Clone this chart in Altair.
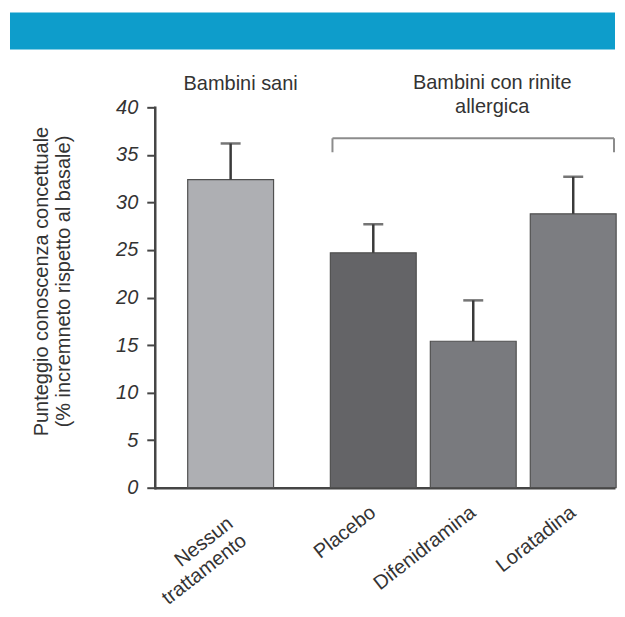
import altair as alt
import pandas as pd

# ---- data ----
CATEGORIES = ["Nessun trattamento", "Placebo", "Difenidramina", "Loratadina"]
GROUPS = ["sani", "rinite", "rinite", "rinite"]
MEANS = [32.4, 24.7, 15.4, 28.8]
ERRORS = [3.8, 3.0, 4.3, 3.9]
Y_TICKS = [0, 5, 10, 15, 20, 25, 30, 35, 40]
LEFT_TITLE = "Bambini sani"
RIGHT_TITLE = ["Bambini con rinite", "allergica"]
Y_TITLE = ["Punteggio conoscenza concettuale", "(% incremneto rispetto al basale)"]

# ---- styles ----
BAR_COLORS = ["#aeafb3", "#646467", "#797a7e", "#7c7d81"]
FONT = "Liberation Sans, Arial, Helvetica, sans-serif"
TEXT = "#333333"
AXIS = "#454545"
H = 381
LW = 152
RW = 309

df = pd.DataFrame({"cat": CATEGORIES, "group": GROUPS, "mean": MEANS, "err": ERRORS})
one = pd.DataFrame({"k": [0]})


def x_axis(pad):
    return alt.Axis(
        labelAngle=322, labelAlign="right", labelBaseline="middle",
        labelPadding=pad, ticks=False, tickSize=0,
        domainColor=AXIS, domainWidth=2.5, domainCap="butt",
        labelExpr="split(datum.label, ' ')", labelFontSize=20,
        labelLineHeight=22, labelColor=TEXT, labelFont=FONT, labelLimit=400,
    )


y_axis_left = alt.Axis(
    values=Y_TICKS, grid=False, labelFontStyle="italic", labelFontSize=20,
    labelFont=FONT, labelColor=TEXT, labelPadding=9, tickSize=8, tickWidth=2,
    tickColor=AXIS, domainColor=AXIS, domainWidth=2.5, domainCap="square",
    titleX=-107, titleY=174, titleAngle=270, titleBaseline="alphabetic",
    titleAlign="center", titleFontSize=20, titleFontWeight="normal",
    titleLineHeight=22, titleColor=TEXT, titleFont=FONT,
)

yscale = alt.Scale(domain=[0, 40], nice=False, zero=True)


def panel(group, cats, xscale, xaxis, yaxis):
    base = (
        alt.Chart(df)
        .transform_filter(alt.datum.group == group)
        .transform_calculate(top="datum.mean + datum.err")
    )
    x = alt.X("cat:N", sort=cats, scale=xscale, axis=xaxis, title=None)
    ytitle = Y_TITLE if yaxis is not None else None
    bars = base.mark_bar(size=86, stroke="#505050", strokeWidth=1.2).encode(
        x=x,
        y=alt.Y("mean:Q", scale=yscale, axis=yaxis, title=ytitle),
        color=alt.Color("cat:N", scale=alt.Scale(domain=CATEGORIES, range=BAR_COLORS), legend=None),
    )
    err = base.mark_rule(color="#3a3a3a", strokeWidth=2.5).encode(
        x=x,
        y=alt.Y("mean:Q", scale=yscale, axis=yaxis, title=ytitle),
        y2="top:Q",
    )
    cap = base.mark_tick(color="#3a3a3a", size=20, thickness=2.5).encode(
        x=x,
        y=alt.Y("top:Q", scale=yscale, axis=yaxis, title=ytitle),
    )
    return [bars, err, cap]


def title_text(text, x, y):
    return alt.Chart(one).mark_text(
        font=FONT, fontSize=20, color=TEXT, baseline="alphabetic",
        align="center", lineHeight=24,
    ).encode(x=alt.value(x), y=alt.value(y), text=alt.value(text))


# left panel
left_layers = panel(
    "sani", CATEGORIES[:1],
    alt.Scale(domain=CATEGORIES[:1], paddingInner=0, paddingOuter=0),
    x_axis(33), y_axis_left,
)
banner = alt.Chart(one).mark_rect(color="#0e9dcb").encode(
    x=alt.value(-145), x2=alt.value(461), y=alt.value(-95), y2=alt.value(-58)
)
left = alt.layer(
    banner, *left_layers, title_text(LEFT_TITLE, 86, -17)
).properties(width=LW, height=H)

# right panel
right_layers = panel(
    "rinite", CATEGORIES[1:],
    alt.Scale(domain=CATEGORIES[1:], paddingInner=0.164, paddingOuter=0.125, align=1),
    x_axis(22), None,
)
bracket_col = "#8c8c8c"
br_h = alt.Chart(one).mark_rule(color=bracket_col, strokeWidth=2).encode(
    x=alt.value(26), x2=alt.value(308), y=alt.value(31)
)
br_l = alt.Chart(one).mark_rule(color=bracket_col, strokeWidth=2).encode(
    x=alt.value(26), y=alt.value(31), y2=alt.value(45)
)
br_r = alt.Chart(one).mark_rule(color=bracket_col, strokeWidth=2).encode(
    x=alt.value(308), y=alt.value(31), y2=alt.value(45)
)
right = alt.layer(
    *right_layers, br_h, br_l, br_r, title_text(RIGHT_TITLE, 186, -18)
).properties(width=RW, height=H)

chart = (
    alt.hconcat(left, right, spacing=0, bounds="flush")
    .resolve_scale(x="independent", y="independent", color="independent")
    .properties(padding={"left": 2, "top": 4, "right": 0, "bottom": 0})
    .configure_view(stroke=None)
)

chart.save("out.html", embed_options={"renderer": "svg", "actions": False})
